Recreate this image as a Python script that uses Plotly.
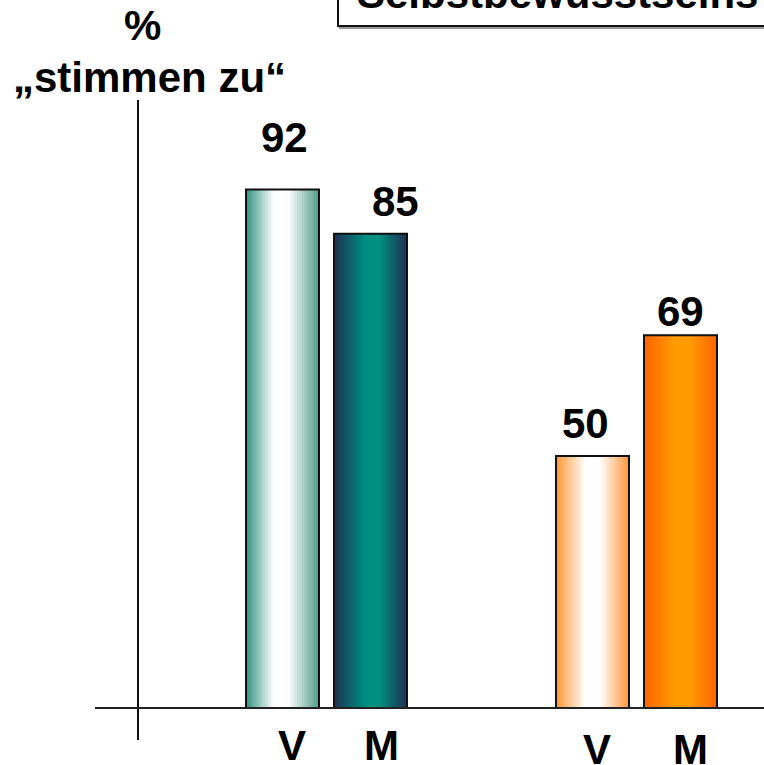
import plotly.graph_objects as go

# ---------------- data ----------------
groups = ["Gruppe 1", "Gruppe 2"]
series = ["V", "M"]
values_v = [92, 50]
values_m = [85, 69]
title_text = "Selbstbewusstseins"
y_title_top = "%"
y_title_bottom = "„stimmen zu“"

# ---------------- layout / style constants ----------------
W, H = 764, 765
ML, MR, MT, MB = 95, 0, 100, 57
PLOT_W = W - ML - MR
PLOT_H = H - MT - MB
BAR_W = 0.2355
OFFSETS = {"V": -0.2597, "M": 0.0242}
X_RANGE = [-0.7468, 1.4113]
Y_RANGE = [10.26, 106.1]
N_SLICES = 30
FONT = dict(family="Liberation Sans, Arial, sans-serif", size=42, color="black", weight="bold")

GRADIENTS = {
    "V": [
        [(0, (50, 146, 126)), (0.38, (255, 255, 255)), (0.58, (255, 255, 255)), (1, (80, 156, 136))],
        [(0, (255, 150, 50)), (0.40, (255, 255, 255)), (0.60, (255, 255, 255)), (1, (255, 150, 60))],
    ],
    "M": [
        [(0, (33, 48, 84)), (0.42, (0, 143, 128)), (0.62, (0, 143, 128)), (1, (33, 48, 84))],
        [(0, (255, 100, 0)), (0.42, (255, 155, 0)), (0.62, (255, 155, 0)), (1, (255, 100, 0))],
    ],
}
# label fine-tuning (pixels)
VALUE_SHIFT = {"V": [(2, 52), (-7, 32)], "M": [(25, 32), (0, 24)]}
CAT_SHIFT = {"V": [(9, 0), (4, -4)], "M": [(11, 0), (10, -4)]}


def px_to_paper_x(p):
    return (p - ML) / PLOT_W


def px_to_paper_y(p):
    return (H - MB - p) / PLOT_H


def interp(stops, t):
    for (t0, c0), (t1, c1) in zip(stops[:-1], stops[1:]):
        if t0 <= t <= t1:
            f = 0 if t1 == t0 else (t - t0) / (t1 - t0)
            c = [round(a + (b - a) * f) for a, b in zip(c0, c1)]
            return f"rgb({c[0]},{c[1]},{c[2]})"
    c = stops[-1][1]
    return f"rgb({c[0]},{c[1]},{c[2]})"


vals = {"V": values_v, "M": values_m}
fig = go.Figure()

# gradient slices
for s in series:
    slice_w = BAR_W / N_SLICES
    for k in range(N_SLICES):
        t = (k + 0.5) / N_SLICES
        colors = [interp(GRADIENTS[s][g], t) for g in range(len(groups))]
        fig.add_trace(go.Bar(
            x=groups, y=vals[s],
            width=slice_w * (1.7 if k < N_SLICES - 1 else 1.0),
            offset=OFFSETS[s] + k * slice_w,
            marker=dict(color=colors, line=dict(width=0)),
            showlegend=False, hoverinfo="skip",
        ))
    # outline
    fig.add_trace(go.Bar(
        x=groups, y=vals[s], width=BAR_W, offset=OFFSETS[s],
        marker=dict(color="rgba(0,0,0,0)", line=dict(color="#111", width=2)),
        showlegend=False, name=s,
    ))

annotations = []
for s in series:
    center = OFFSETS[s] + BAR_W / 2
    for gi, v in enumerate(vals[s]):
        dx, dy = VALUE_SHIFT[s][gi]
        annotations.append(dict(
            x=gi + center, y=v, xref="x", yref="y", text=str(v),
            showarrow=False, font=FONT, xanchor="center", yanchor="middle",
            xshift=dx, yshift=dy,
        ))
        cx, cy = CAT_SHIFT[s][gi]
        annotations.append(dict(
            x=gi + center, y=px_to_paper_y(745), xref="x", yref="paper", text=s,
            showarrow=False, font=FONT, xanchor="center", yanchor="middle",
            xshift=cx, yshift=cy,
        ))

annotations.append(dict(x=px_to_paper_x(142), y=px_to_paper_y(25), xref="paper", yref="paper",
                        text=y_title_top, showarrow=False, font=FONT, xanchor="center", yanchor="middle"))
annotations.append(dict(x=px_to_paper_x(149), y=px_to_paper_y(77.5), xref="paper", yref="paper",
                        text=y_title_bottom, showarrow=False, font=FONT, xanchor="center", yanchor="middle"))
annotations.append(dict(x=px_to_paper_x(355), y=px_to_paper_y(-7), xref="paper", yref="paper",
                        text=title_text, showarrow=False, font=FONT, xanchor="left", yanchor="middle"))

shapes = [
    # title box shadow + box
    dict(type="rect", xref="paper", yref="paper",
         x0=px_to_paper_x(340), x1=1.1, y0=px_to_paper_y(28), y1=px_to_paper_y(-60),
         line=dict(color="#999", width=2), fillcolor="rgba(0,0,0,0)", layer="below"),
    dict(type="rect", xref="paper", yref="paper",
         x0=px_to_paper_x(338), x1=1.1, y0=px_to_paper_y(26), y1=px_to_paper_y(-60),
         line=dict(color="#111", width=2), fillcolor="white", layer="below"),
    # y axis line
    dict(type="line", xref="x", yref="paper", x0=(138 - 326.5) / 310, x1=(138 - 326.5) / 310,
         y0=px_to_paper_y(740), y1=1, line=dict(color="#111", width=2)),
    # x axis line
    dict(type="line", xref="paper", yref="paper", x0=0, x1=1, y0=0, y1=0,
         line=dict(color="#222", width=2)),
]

fig.update_layout(
    width=W, height=H, margin=dict(l=ML, r=MR, t=MT, b=MB, pad=0),
    plot_bgcolor="white", paper_bgcolor="white",
    barmode="overlay", showlegend=False,
    xaxis=dict(range=X_RANGE, showticklabels=False, showgrid=False, zeroline=False, ticks="",
               showline=False, type="category"),
    yaxis=dict(range=Y_RANGE, showticklabels=False, showgrid=False, zeroline=False, ticks="",
               showline=False),
    annotations=annotations, shapes=shapes,
)

fig.write_html("out.html")
